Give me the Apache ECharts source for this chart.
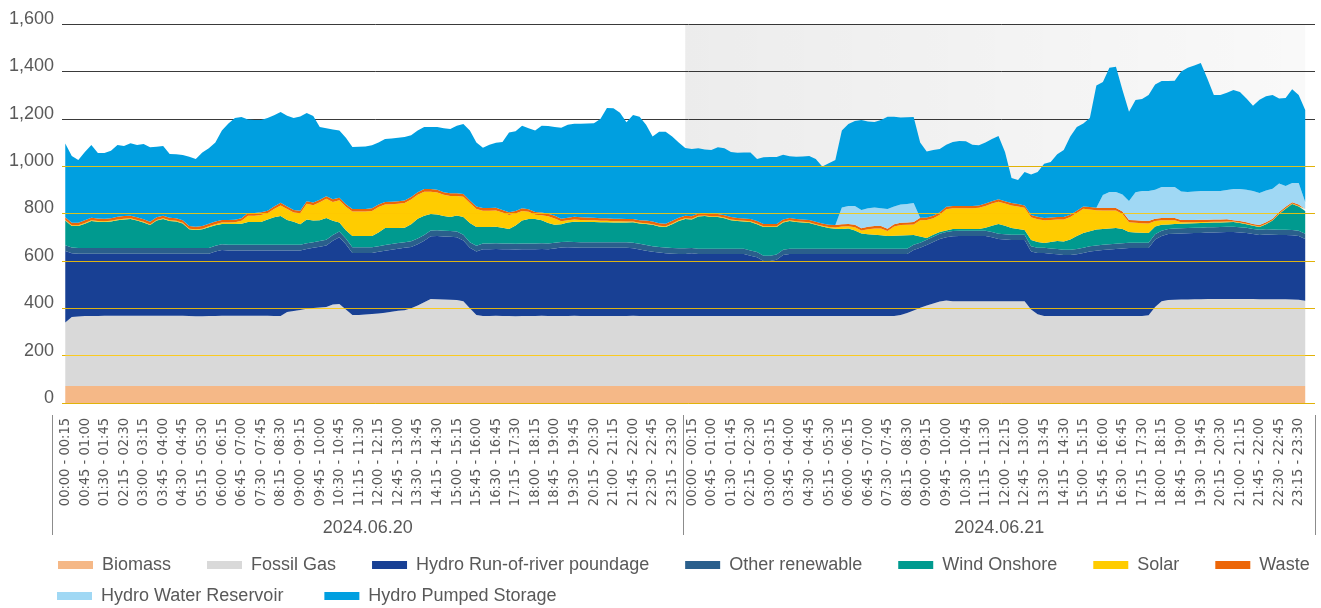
<!DOCTYPE html>
<html>
<head>
<meta charset="utf-8">
<script src="https://cdn.jsdelivr.net/npm/echarts@6/dist/echarts.min.js"></script>
<style>
  html, body { margin: 0; padding: 0; background: #fff; }
  #chart { width: 1321px; height: 608px; }
</style>
</head>
<body>
<div id="chart"></div>
<script>
// two days, 15-minute slots
const dates = ["2024.06.20", "2024.06.21"];
const yTicks = [0, 200, 400, 600, 800, 1000, 1200, 1400, 1600];

const slotLabels = [];
for (let m = 0; m < 24 * 60; m += 15) {
  const a = String(Math.floor(m / 60)).padStart(2, "0") + ":" + String(m % 60).padStart(2, "0");
  const e = m + 15;
  const b = String(Math.floor(e / 60)).padStart(2, "0") + ":" + String(e % 60).padStart(2, "0");
  slotLabels.push(a + " - " + b);
}
const categories = slotLabels.concat(slotLabels);

// MW per slot (last slot of day 2 has no data)
const biomass = [
  72,72,72,72,72,72,72,72,72,72,72,72, 72,72,72,72,72,72,72,72,72,72,72,72,
  72,72,72,72,72,72,72,72,72,72,72,72, 72,72,72,72,72,72,72,72,72,72,72,72,
  72,72,72,72,72,72,72,72,72,72,72,72, 72,72,72,72,72,72,72,72,72,72,72,72,
  72,72,72,72,72,72,72,72,72,72,72,72, 72,72,72,72,72,72,72,72,72,72,72,72,
  72,72,72,72,72,72,72,72,72,72,72,72, 72,72,72,72,72,72,72,72,72,72,72,72,
  72,72,72,72,72,72,72,72,72,72,72,72, 72,72,72,72,72,72,72,72,72,72,72,72,
  72,72,72,72,72,72,72,72,72,72,72,72, 72,72,72,72,72,72,72,72,72,72,72,72,
  72,72,72,72,72,72,72,72,72,72,72,72, 72,72,72,72,72,72,72,72,72,72,72
];
const fossilGas = [
  268,291,293,295,295,295,296,296,296,296,296,296, 296,296,296,296,296,296,296,295,294,294,295,295,
  296,296,296,296,296,296,296,296,295,295,312,316, 321,326,329,331,333,344,346,323,299,300,302,304,
  306,309,313,317,320,328,340,353,367,366,365,364, 363,358,328,299,295,295,296,295,295,294,295,295,
  295,296,295,295,295,295,296,295,295,295,295,295, 295,295,295,296,295,295,295,295,295,295,295,295,
  295,295,295,295,295,295,295,295,295,295,295,295, 295,295,295,295,295,295,295,295,295,295,295,295,
  295,295,295,295,295,295,295,295,300,308,318,330, 340,348,356,361,358,358,358,358,358,358,358,358,
  358,358,358,358,323,303,295,295,295,295,295,295, 295,295,295,295,295,295,295,295,295,295,298,333,
  358,363,364,365,365,366,366,367,367,367,367,367, 367,367,367,366,366,366,366,366,365,364,360
];
const hydroRunOfRiver = [
  302,269,265,263,263,263,262,262,262,262,262,262, 262,262,262,262,262,262,262,263,264,264,263,273,
  278,276,276,276,276,276,276,276,277,277,260,256, 251,252,254,257,260,269,282,275,262,261,259,257,
  260,262,262,262,263,259,258,260,265,267,266,266, 265,256,255,269,282,282,282,282,282,282,282,282,
  282,282,282,285,289,290,288,288,288,288,288,288, 288,288,288,285,281,276,271,268,265,263,262,262,
  265,262,262,262,262,262,262,262,262,255,248,233, 233,238,258,262,262,262,262,262,262,262,262,262,
  262,262,262,262,262,262,262,262,257,249,256,253, 255,260,264,267,274,275,275,275,275,275,270,262,
  260,258,258,258,245,258,266,263,261,258,258,261, 266,273,276,279,281,283,285,287,287,287,284,285,
  275,278,279,279,280,280,280,281,281,282,283,283, 281,279,274,271,273,272,271,271,271,269,260
];
const otherRenewable = [
  24,24,24,24,24,24,24,24,24,24,24,24, 24,24,24,24,24,24,24,24,24,24,24,24,
  24,24,24,24,24,24,24,24,24,24,24,24, 24,24,24,24,24,24,24,24,24,24,24,24,
  24,24,24,24,24,24,24,24,24,24,24,24, 24,24,24,24,24,24,24,24,24,24,24,24,
  24,24,24,24,24,24,24,24,24,24,24,24, 24,24,24,24,24,24,24,24,24,24,24,24,
  22,22,22,22,22,22,22,22,22,22,22,22, 22,22,22,22,22,22,22,22,22,22,22,22,
  22,22,22,22,22,22,22,22,22,22,22,22, 22,22,22,22,22,22,22,22,22,22,22,22,
  22,22,22,22,22,22,22,22,22,22,22,22, 22,22,22,22,22,22,22,22,22,22,22,22,
  22,22,22,22,22,22,22,22,22,22,22,22, 22,22,22,22,22,22,22,22,22,22,22
];
const windOnshore = [
  104,91,93,103,114,111,110,112,118,121,123,116, 108,97,116,123,114,112,104,79,76,79,88,86,
  86,88,88,89,96,96,96,107,116,121,105,97, 87,101,91,88,92,60,38,35,48,48,48,48,
  58,72,68,64,61,72,84,81,70,67,62,59, 68,75,81,79,70,70,70,67,62,77,97,104,
  104,97,87,76,75,81,85,85,85,85,84,84, 83,83,83,86,86,89,90,86,87,101,115,124,
  121,136,138,134,134,129,121,117,115,120,118,121, 121,116,115,117,113,111,109,101,94,88,85,84,
  86,77,65,61,59,57,54,55,56,57,41,26, 8,8,8,6,9,8,8,8,8,13,26,42,
  36,29,25,20,26,25,20,28,34,35,43,55, 63,63,67,67,67,67,61,46,44,43,42,33,
  25,19,19,19,19,19,20,19,20,19,19,20, 18,15,13,12,22,38,67,89,110,103,97
];
const solar = [
  3,3,3,3,3,3,3,3,3,3,3,3, 3,3,3,3,3,3,3,3,3,3,4,5,
  6,6,7,12,27,27,30,26,35,45,46,39, 46,66,65,75,81,80,94,99,103,103,103,106,
  107,99,100,102,104,104,101,102,94,93,90,89, 82,86,84,76,69,69,69,64,59,51,41,30,
  18,22,28,27,12,9,10,9,8,7,6,6, 5,5,4,3,3,3,3,3,3,3,3,3,
  3,3,3,3,3,3,3,3,3,3,3,3, 3,3,3,3,3,3,3,3,3,4,5,10,
  9,14,12,22,27,29,21,39,44,44,45,69, 76,70,73,90,87,87,87,87,89,92,94,94,
  94,95,95,94,96,96,96,93,91,93,95,97, 102,92,82,78,76,74,63,41,41,40,40,23,
  19,17,15,6,5,4,4,3,3,3,3,2, 2,2,2,2,2,2,2,2,2,2,2
];
const waste = [
  11,11,11,11,11,11,11,11,11,11,11,11, 11,11,11,11,11,11,11,11,11,11,11,11,
  11,11,11,11,11,11,11,11,11,11,11,11, 11,11,11,11,11,11,11,11,11,11,11,11,
  11,11,11,11,11,11,11,11,11,11,11,11, 11,11,11,11,11,11,11,11,11,11,11,11,
  11,11,11,11,11,11,11,11,11,11,11,11, 11,11,11,11,11,11,11,11,11,11,11,11,
  10,10,10,10,10,10,10,10,10,10,10,10, 10,10,10,10,10,10,10,10,10,10,10,10,
  10,10,10,10,10,10,10,10,10,10,10,10, 10,10,10,10,10,10,10,10,10,10,10,10,
  10,10,10,10,10,10,10,10,10,10,10,10, 10,10,10,10,10,10,10,10,10,10,10,10,
  10,10,10,10,10,10,10,10,10,10,10,6, 6,6,6,6,6,6,6,6,6,6,6
];
const hydroWaterReservoir = [
  0,0,0,0,0,0,0,0,0,0,0,0, 0,0,0,0,0,0,0,0,0,0,0,0,
  0,0,0,0,0,0,0,0,0,0,0,0, 0,0,0,0,0,0,0,0,0,0,0,0,
  0,0,0,0,0,0,0,0,0,0,0,0, 0,0,0,0,0,0,0,0,0,0,0,0,
  0,0,0,0,0,0,0,0,0,0,0,0, 0,0,0,0,0,0,0,0,0,0,0,0,
  0,0,0,0,0,0,0,0,0,0,0,0, 0,0,0,0,0,0,0,0,0,0,0,70,
  76,80,77,78,78,75,83,75,77,78,80,0, 0,0,0,0,0,0,0,0,0,0,0,0,
  0,0,0,0,0,0,0,0,0,0,0,0, 0,0,0,55,68,68,72,80,119,126,127,122,
  131,131,131,120,118,120,121,121,120,120,123,131, 135,137,139,136,134,127,121,88,81,91,30
];
const hydroPumpedStorage = [
  311,282,265,289,307,276,277,285,303,296,306,305, 317,315,298,294,269,270,275,293,286,311,318,334,
  377,407,429,427,395,393,390,391,385,383,383,388, 398,372,366,307,287,295,283,281,262,263,264,266,
  262,265,267,268,268,260,260,262,262,265,270,272, 285,296,295,270,255,267,275,287,337,336,348,342,
  344,366,370,375,384,393,393,395,397,399,419,465, 466,447,408,439,436,405,359,386,388,356,318,285,
  284,275,268,270,282,282,275,275,279,281,262,281, 283,283,273,261,263,266,270,265,240,259,275,325,
  346,358,380,366,361,373,389,378,367,366,363,318, 279,278,267,262,270,274,273,258,254,258,263,267,
  208,106,101,141,171,189,229,234,265,283,330,353, 350,376,516,477,524,528,441,377,389,388,405,445,
  447,447,448,507,524,532,540,475,405,405,411,418, 410,385,360,393,398,395,358,372,396,371,388
];

const seriesDefs = [
  { name: "Biomass", data: biomass, color: "#f5b887" },
  { name: "Fossil Gas", data: fossilGas, color: "#d9d9d9" },
  { name: "Hydro Run-of-river poundage", data: hydroRunOfRiver, color: "#184094" },
  { name: "Other renewable", data: otherRenewable, color: "#2a5f8c" },
  { name: "Wind Onshore", data: windOnshore, color: "#009a8f" },
  { name: "Solar", data: solar, color: "#ffcc00" },
  { name: "Waste", data: waste, color: "#ec6608" },
  { name: "Hydro Water Reservoir", data: hydroWaterReservoir, color: "#a0d8f4" },
  { name: "Hydro Pumped Storage", data: hydroPumpedStorage, color: "#009fe0" },
];

const chart = echarts.init(document.getElementById("chart"), null, { renderer: "canvas" });

const areaSeries = seriesDefs.map((s) => ({
  name: s.name,
  type: "line",
  stack: "total",
  data: s.data,
  xAxisIndex: 0,
  yAxisIndex: 0,
  showSymbol: false,
  symbol: "none",
  lineStyle: { width: 0 },
  itemStyle: { color: s.color },
  areaStyle: { color: s.color, opacity: 1 },
  z: 2,
}));

// grey shading over the second day + yellow grid lines over the areas
const overlaySeries = {
  type: "line",
  xAxisIndex: 1,
  yAxisIndex: 0,
  data: [],
  z: 6,
  silent: true,
  markArea: {
    silent: true,
    itemStyle: {
      color: new echarts.graphic.LinearGradient(0, 0, 1, 0, [
        { offset: 0, color: "rgba(0,0,0,0.075)" },
        { offset: 1, color: "rgba(0,0,0,0.025)" },
      ]),
    },
    data: [[{ xAxis: 95.5, yAxis: 0 }, { xAxis: 190.5, yAxis: 1600 }]],
  },
  markLine: {
    silent: true,
    symbol: ["none", "none"],
    label: { show: false },
    lineStyle: { color: "rgba(255,200,0,0.85)", width: 1.2, type: "solid" },
    data: yTicks.filter((v) => v <= 1000).map((v) => ({ yAxis: v })),
  },
};

const labelColor = "#595959";
const legendText = { color: labelColor, fontSize: 18, padding: [0, 0, 0, 4] };

const option = {
  animation: false,
  backgroundColor: "#ffffff",
  textStyle: { fontFamily: "Liberation Sans" },
  grid: [
    { left: 62, right: 6, top: 24, bottom: 205 },
    { left: 52, right: 6, top: 400, bottom: 193 },
  ],
  legend: [
    {
      data: seriesDefs.slice(0, 7).map((s) => s.name),
      left: 53, top: 551,
      icon: "rect", itemWidth: 35, itemHeight: 8, itemGap: 36,
      textStyle: legendText,
      selectedMode: false,
    },
    {
      data: seriesDefs.slice(7).map((s) => s.name),
      left: 52, top: 582,
      icon: "rect", itemWidth: 35, itemHeight: 8, itemGap: 41,
      textStyle: legendText,
      selectedMode: false,
    },
  ],
  xAxis: [
    {
      type: "category",
      gridIndex: 0,
      data: categories,
      boundaryGap: true,
      axisLine: { show: false },
      axisTick: { show: false },
      axisLabel: {
        rotate: 90,
        interval: 2,
        margin: 15,
        fontFamily: "'DejaVu Sans Condensed', 'Liberation Sans'",
        fontSize: 14.5,
        color: labelColor,
      },
    },
    { type: "value", gridIndex: 0, min: 0, max: 192, show: false },
    {
      type: "category",
      gridIndex: 1,
      data: dates,
      boundaryGap: true,
      position: "bottom",
      axisLine: { show: false },
      axisTick: { show: true, length: 120, lineStyle: { color: "#8c8c8c", width: 1 } },
      axisLabel: { margin: 104, fontSize: 18, color: labelColor },
    },
  ],
  yAxis: [
    {
      type: "value",
      gridIndex: 0,
      min: yTicks[0],
      max: yTicks[yTicks.length - 1],
      interval: 200,
      axisLine: { show: false },
      axisTick: { show: false },
      axisLabel: {
        margin: 8,
        fontSize: 18,
        color: labelColor,
        verticalAlign: "bottom",
        lineHeight: 10,
        formatter: (v) => v.toLocaleString("en-US"),
      },
      splitLine: { show: true, lineStyle: { width: 1, color: "#3a3a3a" } },
    },
    { type: "value", gridIndex: 1, show: false },
  ],
  series: areaSeries.concat([overlaySeries]),
};

chart.setOption(option);
</script>
</body>
</html>
